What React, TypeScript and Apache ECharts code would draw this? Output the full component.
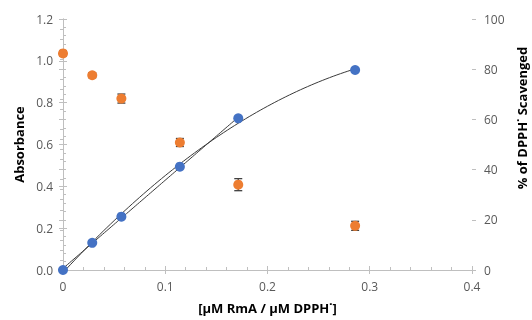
import React, { useEffect, useRef } from "react";
import * as echarts from "echarts";

// Data
const ratios = [0, 0.0286, 0.0571, 0.1143, 0.1714, 0.2857];
const absorbance = [0, 0.13, 0.255, 0.494, 0.725, 0.956];
const scavenged = [86.3, 77.6, 68.3, 50.8, 34.0, 17.6];
const scavengedErr = [1.0, 1.0, 1.8, 1.6, 2.4, 1.8];
const linearFitCount = 5; // linear trendline on the first five points

const xName = "[µM RmA / µM DPPH˙]";
const yLeftName = "Absorbance";
const yRightName = "% of DPPH˙ Scavenged";

function linearFit(xs: number[], ys: number[]) {
  const n = xs.length;
  const mx = xs.reduce((a, b) => a + b, 0) / n;
  const my = ys.reduce((a, b) => a + b, 0) / n;
  let sxy = 0, sxx = 0;
  for (let i = 0; i < n; i++) {
    sxy += (xs[i] - mx) * (ys[i] - my);
    sxx += (xs[i] - mx) * (xs[i] - mx);
  }
  const b = sxy / sxx;
  return { b, a: my - b * mx };
}

function quadFit(xs: number[], ys: number[]) {
  const S = [0, 0, 0, 0, 0];
  const T = [0, 0, 0];
  for (let i = 0; i < xs.length; i++) {
    for (let k = 0; k < 5; k++) S[k] += Math.pow(xs[i], k);
    for (let k = 0; k < 3; k++) T[k] += ys[i] * Math.pow(xs[i], k);
  }
  const M = [
    [S[0], S[1], S[2], T[0]],
    [S[1], S[2], S[3], T[1]],
    [S[2], S[3], S[4], T[2]],
  ];
  for (let c = 0; c < 3; c++) {
    let p = c;
    for (let r = c + 1; r < 3; r++) if (Math.abs(M[r][c]) > Math.abs(M[p][c])) p = r;
    [M[c], M[p]] = [M[p], M[c]];
    for (let r = 0; r < 3; r++) {
      if (r === c) continue;
      const f = M[r][c] / M[c][c];
      for (let k = c; k < 4; k++) M[r][k] -= f * M[c][k];
    }
  }
  return [M[0][3] / M[0][0], M[1][3] / M[1][1], M[2][3] / M[2][2]];
}

export default function App() {
  const ref = useRef<HTMLDivElement>(null);
  useEffect(() => {
    if (!ref.current) return;
    const chart = echarts.init(ref.current, null, { renderer: "svg" });

    const lin = linearFit(ratios.slice(0, linearFitCount), absorbance.slice(0, linearFitCount));
    const q = quadFit(ratios, absorbance);
    const xEndLin = ratios[linearFitCount - 1];
    const xEndQ = ratios[ratios.length - 1];
    const N = 80;
    const linData: number[][] = [];
    const quadData: number[][] = [];
    for (let i = 0; i <= N; i++) {
      const xl = (xEndLin * i) / N;
      linData.push([xl, lin.a + lin.b * xl]);
      const xq = (xEndQ * i) / N;
      quadData.push([xq, q[0] + q[1] * xq + q[2] * xq * xq]);
    }

    const axisColor = "#BFBFBF";
    const font = "Open Sans";
    const labelStyle = { color: "#595959", fontSize: 12, fontFamily: font };

    chart.setOption({
      animation: false,
      grid: { left: 63, right: 60, top: 19, bottom: 50 },
      xAxis: [
        {
          type: "value",
          min: 0,
          max: 0.4,
          interval: 0.1,
          axisLine: { show: true, lineStyle: { color: axisColor } },
          axisTick: { show: true, inside: true, length: 4, lineStyle: { color: axisColor } },
          minorTick: { show: true, splitNumber: 5, length: 3, lineStyle: { color: axisColor } },
          splitLine: { show: false },
          axisLabel: { ...labelStyle, margin: 10, formatter: (v: number) => (v === 0 ? "0" : String(Math.round(v * 10) / 10)) },
          name: xName,
          nameLocation: "middle",
          nameGap: 31,
          nameTextStyle: { fontFamily: font, fontWeight: "bold", fontSize: 13, color: "#000" },
        },
        {
          type: "value",
          min: 0,
          max: 0.4,
          interval: 0.1,
          position: "bottom",
          axisLine: { show: false },
          axisTick: { show: true, inside: false, length: 4, lineStyle: { color: axisColor } },
          axisLabel: { show: false },
          splitLine: { show: false },
        },
      ],
      yAxis: [
        {
          type: "value",
          min: 0,
          max: 1.2,
          interval: 0.2,
          position: "left",
          axisLine: { show: true, lineStyle: { color: axisColor } },
          axisTick: { show: true, inside: true, length: 4, lineStyle: { color: axisColor } },
          minorTick: { show: true, splitNumber: 5, length: 3, lineStyle: { color: axisColor } },
          splitLine: { show: false },
          axisLabel: { ...labelStyle, margin: 10, formatter: (v: number) => v.toFixed(1) },
          name: yLeftName,
          nameLocation: "middle",
          nameGap: 36,
          nameTextStyle: { fontFamily: font, fontWeight: "bold", fontSize: 13, color: "#000" },
        },
        {
          type: "value",
          min: 0,
          max: 100,
          interval: 20,
          position: "right",
          axisLine: { show: true, lineStyle: { color: axisColor } },
          axisTick: { show: true, inside: true, length: 4, lineStyle: { color: axisColor } },
          minorTick: { show: true, splitNumber: 5, length: 3, lineStyle: { color: axisColor } },
          splitLine: { show: false },
          axisLabel: { ...labelStyle, margin: 12 },
        },
        {
          type: "value",
          min: 0,
          max: 1.2,
          interval: 0.2,
          position: "left",
          axisLine: { show: false },
          axisTick: { show: true, inside: false, length: 4, lineStyle: { color: axisColor } },
          axisLabel: { show: false },
          splitLine: { show: false },
        },
        {
          type: "value",
          min: 0,
          max: 100,
          interval: 20,
          position: "right",
          axisLine: { show: false },
          axisTick: { show: true, inside: false, length: 4, lineStyle: { color: axisColor } },
          axisLabel: { show: false },
          splitLine: { show: false },
        },
      ],
      graphic: [
        {
          type: "text",
          x: 522,
          y: 118,
          rotation: Math.PI / 2,
          style: {
            text: yRightName,
            font: `bold 13px "${font}"`,
            fill: "#000",
            align: "center",
            verticalAlign: "middle",
          },
        },
      ],
      series: [
        {
          name: "Linear trend",
          type: "line",
          data: linData,
          showSymbol: false,
          silent: true,
          lineStyle: { color: "#3a3a3a", width: 1 },
          z: 3,
        },
        {
          name: "Polynomial trend",
          type: "line",
          data: quadData,
          showSymbol: false,
          silent: true,
          lineStyle: { color: "#3a3a3a", width: 1 },
          z: 3,
        },
        {
          name: "Error",
          type: "custom",
          yAxisIndex: 1,
          data: ratios.map((x, i) => [x, scavenged[i], scavengedErr[i]]),
          encode: { x: 0, y: 1 },
          z: 3,
          silent: true,
          renderItem: (params: any, api: any) => {
            const x = api.value(0);
            const v = api.value(1);
            const e = api.value(2);
            const top = api.coord([x, v + e]);
            const bot = api.coord([x, v - e]);
            const w = 4;
            const style = { stroke: "#404040", lineWidth: 1.3 };
            return {
              type: "group",
              children: [
                { type: "line", shape: { x1: top[0], y1: top[1], x2: bot[0], y2: bot[1] }, style },
                { type: "line", shape: { x1: top[0] - w, y1: top[1], x2: top[0] + w, y2: top[1] }, style },
                { type: "line", shape: { x1: bot[0] - w, y1: bot[1], x2: bot[0] + w, y2: bot[1] }, style },
              ],
            };
          },
        },
        {
          name: "Absorbance",
          type: "scatter",
          data: ratios.map((x, i) => [x, absorbance[i]]),
          symbolSize: 10,
          itemStyle: { color: "#4472C4", opacity: 1 },
          z: 4,
        },
        {
          name: "% Scavenged",
          type: "scatter",
          yAxisIndex: 1,
          data: ratios.map((x, i) => [x, scavenged[i]]),
          symbolSize: 10,
          itemStyle: { color: "#ED7D31", opacity: 1 },
          z: 4,
        },
      ],
    });
    return () => chart.dispose();
  }, []);
  return <div ref={ref} style={{ position: "fixed", left: 0, top: 0, width: 532, height: 320 }} />;
}
